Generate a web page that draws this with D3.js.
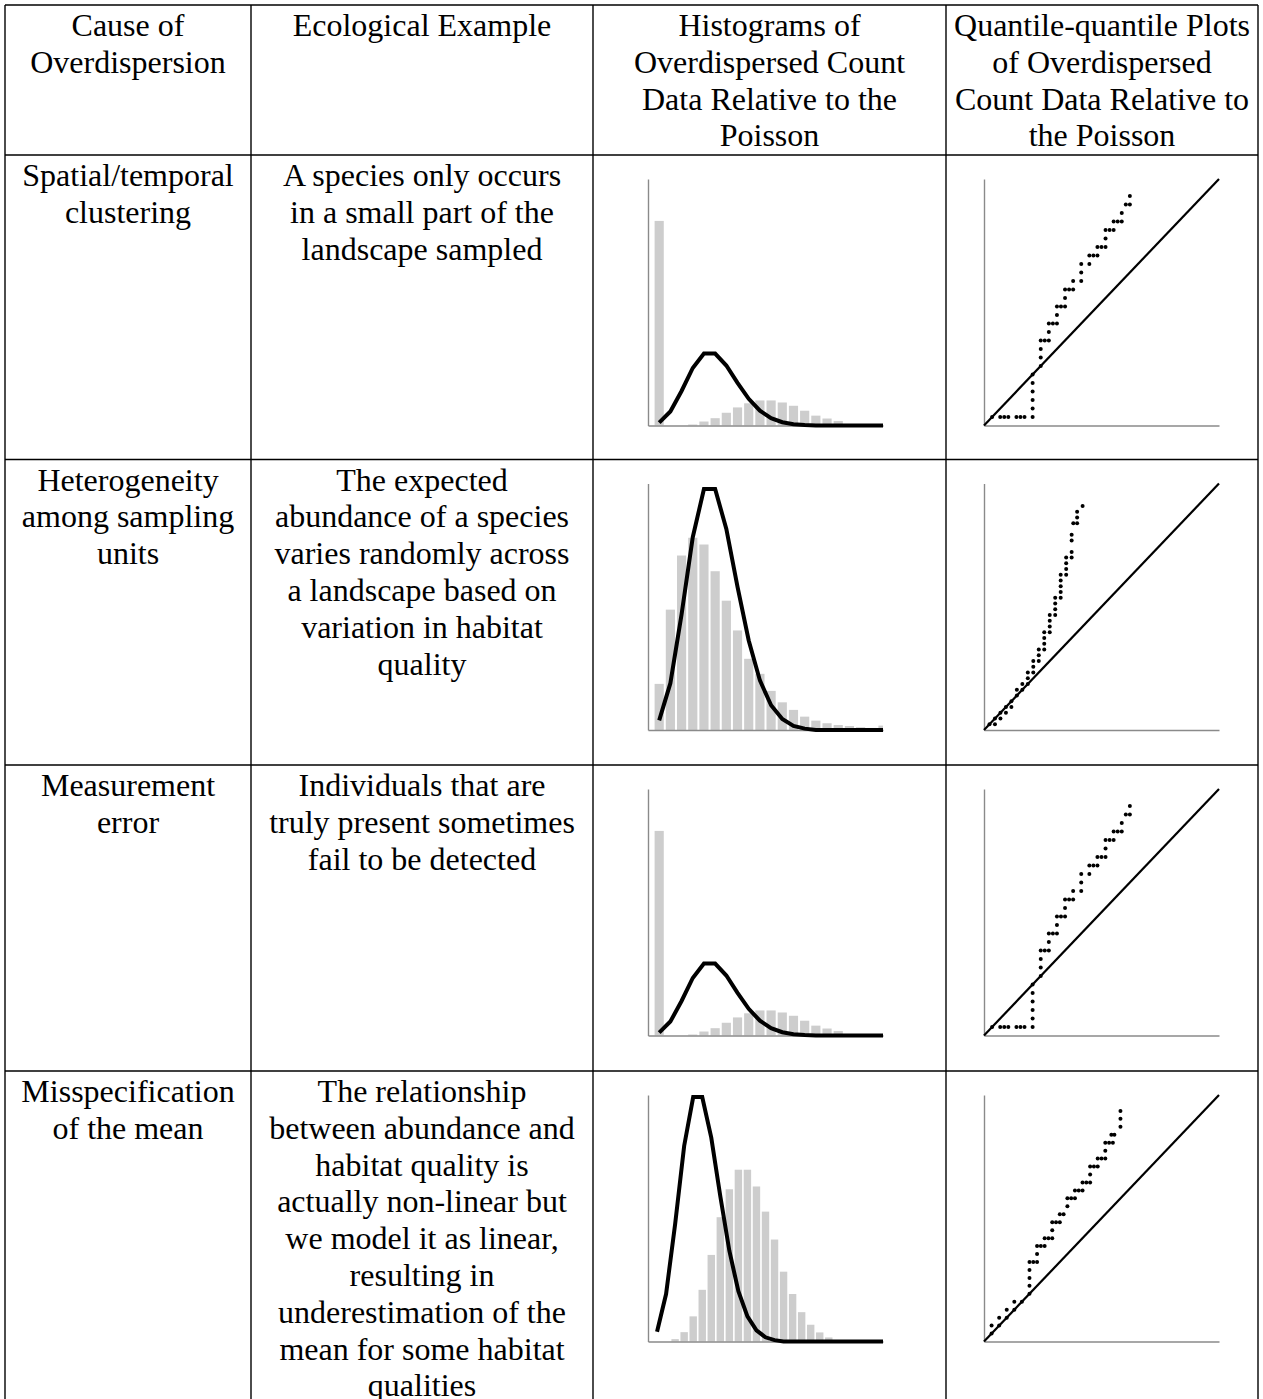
<!DOCTYPE html>
<html>
<head>
<meta charset="utf-8">
<script src="https://cdn.jsdelivr.net/npm/d3@7"></script>
<style>
  body { margin: 0; background: #fff; }
  svg { display: block; background: #fff; }
  .cell-text { font-family: "Liberation Serif", "Times New Roman", serif; font-size: 32px; fill: #000; }
  .axis path { stroke: #8a8a8a; stroke-width: 1.4px; }
</style>
</head>
<body>
<div id="chart"></div>
<script>
// --- DATA ---
const headerLines = [
    ["Cause of", "Overdispersion"],
    ["Ecological Example"],
    ["Histograms of", "Overdispersed Count", "Data Relative to the", "Poisson"],
    ["Quantile-quantile Plots", "of Overdispersed", "Count Data Relative to", "the Poisson"]
];

const causeLines = [
    ["Spatial/temporal", "clustering"],
    ["Heterogeneity", "among sampling", "units"],
    ["Measurement", "error"],
    ["Misspecification", "of the mean"]
];

const exampleLines = [
    ["A species only occurs", "in a small part of the", "landscape sampled"],
    ["The expected", "abundance of a species", "varies randomly across", "a landscape based on", "variation in habitat", "quality"],
    ["Individuals that are", "truly present sometimes", "fail to be detected"],
    ["The relationship", "between abundance and", "habitat quality is", "actually non-linear but", "we model it as linear,", "resulting in", "underestimation of the", "mean for some habitat", "qualities"]
];

// proportion of sampling units with count k = 0, 1, 2, ...
const histClustering = [0.498, 0, 0, 0.0024, 0.0097, 0.0178, 0.031, 0.044, 0.054, 0.061, 0.061, 0.056, 0.048, 0.036, 0.024, 0.017, 0.011, 0.001, 0, 0, 0];
const histHeterogeneity = [0.0335, 0.0874, 0.1267, 0.1396, 0.1347, 0.1153, 0.0939, 0.0723, 0.0517, 0.0408, 0.0284, 0.0201, 0.0146, 0.0097, 0.0068, 0.0049, 0.0036, 0.0029, 0.002, 0.0015, 0.0032];
const histMeasurement = [0.498, 0, 0, 0.0024, 0.0097, 0.0178, 0.031, 0.044, 0.054, 0.061, 0.061, 0.056, 0.048, 0.036, 0.024, 0.017, 0.011, 0.001, 0, 0, 0];
const histMisspec = [0, 0, 0.0017, 0.0067, 0.018, 0.037, 0.062, 0.089, 0.109, 0.123, 0.123, 0.111, 0.093, 0.073, 0.050, 0.034, 0.021, 0.012, 0.0065, 0.0029, 0, 0, 0, 0, 0, 0];

// fitted Poisson line, same k = 0, 1, 2, ...
const poissonFit = [0.007, 0.034, 0.084, 0.140, 0.175, 0.175, 0.146, 0.104, 0.065, 0.036, 0.018, 0.008, 0.003, 0.001, 0, 0, 0, 0, 0, 0, 0, 0, 0, 0, 0, 0];

const histYMax = [0.6, 0.179, 0.6, 0.1765];

// [theoretical Poisson quantile, observed quantile]
const qqClustering = [[1,1],[2,1],[2.5,1],[3,1],[4,1],[4.5,1],[5,1],[6,1],[6,2],[6,3],[6,4],[6,5],[6,6],[7,7],[7,8],[7,9],[7,10],[7.5,10],[8,10],[8,11],[8,12],[8.5,12],[9,12],[9,13],[9,14],[9.5,14],[10,14],[10,15],[10,16],[10.5,16],[11,16],[11,17],[12,17],[12,18],[12,19],[13,19],[13,20],[13.5,20],[14,20],[14,21],[14.5,21],[15,21],[15,22],[15,23],[15.5,23],[16,23],[16,24],[16.5,24],[17,24],[17,25],[17.5,26],[18,26],[18,27]];
const qqHeterogeneity = [[1,1],[2,1],[2,2],[3,2],[3,3],[4,3],[4,4],[5,4],[5,5],[6,6],[6,7],[7,7],[7,8],[8,8],[8,9],[8,10],[9,10],[9,11],[9,12],[10,12],[10,13],[10,14],[11,14],[11,15],[11,16],[11,17],[12,17],[12,18],[12,19],[12,20],[13,20],[13,21],[13,22],[13,23],[14,23],[14,24],[14,25],[14,26],[14,27],[15,27],[15,28],[15,29],[15,30],[16,30],[16,31],[16,33],[16,34],[16.3,36],[17,36],[17,37],[17,38],[18,39]];
const qqMeasurement = [[1,1],[2,1],[2.5,1],[3,1],[4,1],[4.5,1],[5,1],[6,1],[6,2],[6,3],[6,4],[6,5],[6,6],[7,7],[7,8],[7,9],[7,10],[7.5,10],[8,10],[8,11],[8,12],[8.5,12],[9,12],[9,13],[9,14],[9.5,14],[10,14],[10,15],[10,16],[10.5,16],[11,16],[11,17],[12,17],[12,18],[12,19],[13,19],[13,20],[13.5,20],[14,20],[14,21],[14.5,21],[15,21],[15,22],[15,23],[15.5,23],[16,23],[16,24],[16.5,24],[17,24],[17,25],[17.5,26],[18,26],[18,27]];
const qqMisspec = [[1,1],[1,2],[2,2],[2,3],[3,3],[3,4],[4,4],[4,5],[5,5],[6,6],[6,7],[6,8],[6,9],[6,10],[6.5,10],[7,10],[7,11],[7,12],[7.5,12],[8,12],[8,13],[8.5,13],[9,13],[9,14],[9,15],[9.5,15],[10,15],[10,16],[10.5,16],[11,17],[11,18],[11.5,18],[12,18],[12,19],[12.5,19],[13,19],[13,20],[13.5,20],[14,20],[14,21],[14,22],[14.5,22],[15,22],[15,23],[15.5,23],[16,23],[16,24],[16,25],[16.5,25],[17,25],[16.8,26],[17.2,26],[18,27],[18,28],[18,29]];

const qqMax = [29, 42.9, 29, 31];

// --- LAYOUT ---
const W = 1263, H = 1399;
const colX = [5, 251, 593, 946, 1258];
const headerTop = 5;
const rowTops = [155, 459.5, 765, 1071];
const lineH = 36.8;
const textTop = 31;
const histLeft = 648, qqLeft = 984, plotW = 235;
const plotTop = 24, plotH = 246.5;

const rows = [
    { hist: histClustering, qq: qqClustering },
    { hist: histHeterogeneity, qq: qqHeterogeneity },
    { hist: histMeasurement, qq: qqMeasurement },
    { hist: histMisspec, qq: qqMisspec }
];
rows.forEach((r, i) => {
    r.cause = causeLines[i];
    r.example = exampleLines[i];
    r.yMax = histYMax[i];
    r.qqMax = qqMax[i];
    r.top = rowTops[i];
});

const svg = d3.select("#chart").append("svg")
    .attr("width", W)
    .attr("height", H);

// table grid
const grid = svg.append("g").attr("stroke", "#000").attr("stroke-width", 1.4);
grid.selectAll("line.h").data([headerTop, ...rowTops]).join("line")
    .attr("class", "h")
    .attr("x1", colX[0]).attr("x2", colX[4])
    .attr("y1", d => d).attr("y2", d => d);
grid.selectAll("line.v").data(colX).join("line")
    .attr("class", "v")
    .attr("x1", d => d).attr("x2", d => d)
    .attr("y1", headerTop).attr("y2", H);

function cellText(lines, col, top) {
    svg.append("text")
        .attr("class", "cell-text")
        .attr("text-anchor", "middle")
        .selectAll("tspan").data(lines).join("tspan")
        .attr("x", (colX[col] + colX[col + 1]) / 2)
        .attr("y", (d, i) => top + textTop + i * lineH)
        .text(d => d);
}

headerLines.forEach((lines, c) => cellText(lines, c, headerTop));

function drawHist(r) {
    const n = r.hist.length;
    const g = svg.append("g").attr("transform", `translate(${histLeft},${r.top + plotTop})`);
    const x = d3.scaleLinear().domain([-1, n - 1]).range([0, plotW]);
    const y = d3.scaleLinear().domain([0, r.yMax]).range([plotH, 0]);
    const pitch = x(1) - x(0);
    const bw = pitch * 0.82;

    g.selectAll("rect").data(r.hist).join("rect")
        .attr("x", (d, k) => x(k) - bw / 2)
        .attr("width", (d, k) => Math.max(0, Math.min(bw, plotW - (x(k) - bw / 2))))
        .attr("y", d => y(d))
        .attr("height", d => plotH - y(d))
        .attr("fill", "#cdcdcd");

    g.append("g").attr("class", "axis")
        .call(d3.axisLeft(y).tickValues([]).tickSizeOuter(0));
    g.append("g").attr("class", "axis")
        .attr("transform", `translate(0,${plotH})`)
        .call(d3.axisBottom(x).tickValues([]).tickSizeOuter(0));

    const line = d3.line().x((d, k) => x(k)).y(d => y(d));
    g.append("path")
        .datum(poissonFit.slice(0, n))
        .attr("d", line)
        .attr("fill", "none")
        .attr("stroke", "#000")
        .attr("stroke-width", 4);
}

function drawQQ(r) {
    const g = svg.append("g").attr("transform", `translate(${qqLeft},${r.top + plotTop})`);
    const x = d3.scaleLinear().domain([0, r.qqMax]).range([0, plotW]);
    const y = d3.scaleLinear().domain([0, r.qqMax]).range([plotH, 0]);

    g.append("g").attr("class", "axis")
        .call(d3.axisLeft(y).tickValues([]).tickSizeOuter(0));
    g.append("g").attr("class", "axis")
        .attr("transform", `translate(0,${plotH})`)
        .call(d3.axisBottom(x).tickValues([]).tickSizeOuter(0));

    g.append("line")
        .attr("x1", x(0)).attr("y1", y(0))
        .attr("x2", x(r.qqMax)).attr("y2", y(r.qqMax))
        .attr("stroke", "#000")
        .attr("stroke-width", 2.2);

    g.selectAll("circle").data(r.qq).join("circle")
        .attr("cx", d => x(d[0]))
        .attr("cy", d => y(d[1]))
        .attr("r", 2)
        .attr("fill", "#000");
}

rows.forEach(r => {
    cellText(r.cause, 0, r.top);
    cellText(r.example, 1, r.top);
    drawHist(r);
    drawQQ(r);
});
</script>
</body>
</html>
